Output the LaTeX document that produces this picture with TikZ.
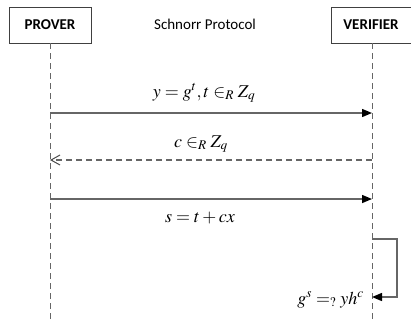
\documentclass[tikz,border=0pt]{standalone}
\usepackage{mathptmx}
\usepackage{fontspec}
\setmainfont{Carlito}
\usetikzlibrary{arrows.meta}
\tikzset{
  actor/.style={draw=black!75, line width=0.8pt, fill=white, minimum width=82pt, minimum height=36pt, inner sep=0pt, font=\fontsize{15}{18}\selectfont\bfseries},
  lifeline/.style={draw=black!60, line width=1pt, dash pattern=on 6pt off 4pt},
  msg/.style={draw=black!60, line width=1.4pt, -{Triangle[length=10pt,width=8pt,fill=black,color=black]}},
  reply/.style={draw=black!60, line width=1.2pt, dash pattern=on 6pt off 4pt, -{Straight Barb[length=9pt,width=10pt,color=black!70,line width=1pt]}},
  lbl/.style={inner sep=0pt, anchor=base, font=\fontsize{18}{21}\selectfont}
}
\begin{document}
\begin{tikzpicture}[x=1pt,y=-1pt]
\useasboundingbox (0,0) rectangle (411,322);
% lifelines
\coordinate (pend) at (50,322);
\coordinate (vend) at (372,322);
\node[actor] (prover) at (50,25) {PROVER};
\node[actor, minimum width=80pt] (verifier) at (371,25) {VERIFIER};
\draw[lifeline] (prover.south) -- (pend);
\draw[lifeline] (verifier.south -| vend) -- (vend);
\node[font=\fontsize{15}{18}\selectfont, inner sep=0pt] (title) at (205,24) {Schnorr Protocol};
% message 1
\coordinate (p1) at (50,113);
\coordinate (v1) at (372,113);
\draw[msg] (p1) -- (v1);
\node[lbl] (l1) at (204,97) {$y = g^{t}, t \in_{R} Z_{q}$};
% message 2
\coordinate (v2) at (372,160);
\coordinate (p2) at (50,160);
\draw[reply] (v2) -- (p2);
\node[lbl] (l2) at (201,147) {$c \in_{R} Z_{q}$};
% message 3
\coordinate (p3) at (50,199);
\coordinate (v3) at (372,199);
\draw[msg] (p3) -- (v3);
\node[lbl] (l3) at (200,222) {$s = t + cx$};
% self loop
\coordinate (s1) at (372,239);
\coordinate (s2) at (372,297);
\draw[msg] (s1) -- (397,239) -- (397,297) -- (s2);
\node[lbl, anchor=base east] (l4) at (364,304) {$g^{s} =_{?} yh^{c}$};
\end{tikzpicture}
\end{document}
